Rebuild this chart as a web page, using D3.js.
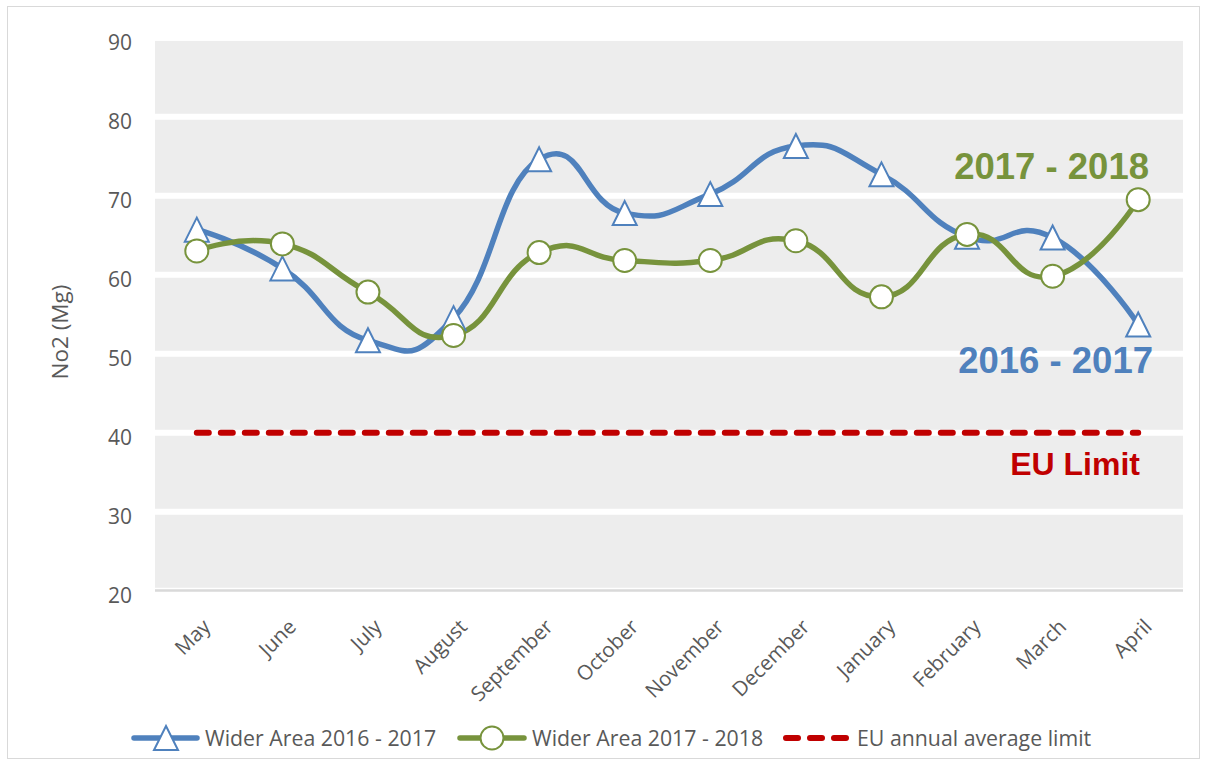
<!DOCTYPE html>
<html>
<head>
<meta charset="utf-8">
<script src="https://cdn.jsdelivr.net/npm/d3@7"></script>
<style>
  html, body { margin: 0; padding: 0; background: #ffffff; }
  svg { display: block; font-family: "Open Sans", "Noto Sans", sans-serif; }
</style>
</head>
<body>
<svg id="chart" width="1206" height="765"></svg>
<script>
const months = ["May", "June", "July", "August", "September", "October", "November", "December", "January", "February", "March", "April"];
const wider2016 = [65.7, 60.8, 51.7, 54.5, 74.6, 67.8, 70.2, 76.3, 72.7, 64.8, 64.7, 53.7];
const wider2018 = [63.0, 63.9, 57.8, 52.3, 62.8, 61.8, 61.8, 64.3, 57.2, 65.1, 59.8, 69.5];
const euLimit = [40, 40, 40, 40, 40, 40, 40, 40, 40, 40, 40, 40];
const yTicks = [20, 30, 40, 50, 60, 70, 80, 90];
const seriesNames = ["Wider Area 2016 - 2017", "Wider Area 2017 - 2018", "EU annual average limit"];

const blue = "#4f81bd", green = "#77933c", red = "#c00000", textCol = "#595959";

const svg = d3.select("#chart");

// outer frame
svg.append("rect").attr("x", 7.5).attr("y", 6.5).attr("width", 1192).attr("height", 752)
  .attr("fill", "#ffffff").attr("stroke", "#d9d9d9").attr("stroke-width", 1);

const plotLeft = 155, plotRight = 1183;
const x = d3.scalePoint().domain(months).range([196.8, 1138.2]);
const y = d3.scaleLinear().domain([20, 90]).range([590.7, 37.7]);

// plot background
svg.append("rect").attr("x", plotLeft).attr("y", y(90)).attr("width", plotRight - plotLeft)
  .attr("height", y(20) - y(90)).attr("fill", "#ededed");

// white gridlines
svg.append("g").selectAll("line").data(yTicks).join("line")
  .attr("x1", plotLeft).attr("x2", plotRight)
  .attr("y1", d => y(d)).attr("y2", d => y(d))
  .attr("stroke", "#ffffff").attr("stroke-width", 6);

// cover above top
svg.append("rect").attr("x", plotLeft - 2).attr("y", 20).attr("width", plotRight - plotLeft + 4)
  .attr("height", y(90) + 3 - 20).attr("fill", "#ffffff");

// x axis line
svg.append("line").attr("x1", plotLeft).attr("x2", plotRight)
  .attr("y1", 590.5).attr("y2", 590.5).attr("stroke", "#d9d9d9").attr("stroke-width", 2.4);

// y tick labels
svg.append("g").selectAll("text").data(yTicks).join("text")
  .attr("x", 132).attr("y", d => y(d) + 12.5)
  .attr("text-anchor", "end").attr("fill", textCol).attr("font-size", 21)
  .text(d => d);

// y title
svg.append("text").attr("transform", "translate(68,332) rotate(-90)")
  .attr("text-anchor", "middle").attr("fill", textCol).attr("font-size", 22.5)
  .text("No2 (Mg)");

// x labels
svg.append("g").selectAll("text").data(months).join("text")
  .attr("transform", d => `translate(${x(d) + 15},628) rotate(-45)`)
  .attr("text-anchor", "end").attr("fill", textCol).attr("font-size", 20.5)
  .text(d => d);

// EU limit line
const lineStraight = d3.line().x((d, i) => x(months[i])).y(d => y(d));
svg.append("path").datum(euLimit).attr("d", lineStraight)
  .attr("fill", "none").attr("stroke", red).attr("stroke-width", 6)
  .attr("stroke-dasharray", "12,12").attr("stroke-linecap", "round");

const smooth = d3.line().x((d, i) => x(months[i])).y(d => y(d)).curve(d3.curveCardinal.tension(-0.5));

svg.append("path").datum(wider2016).attr("d", smooth)
  .attr("fill", "none").attr("stroke", blue).attr("stroke-width", 5.5).attr("stroke-linecap", "round");
svg.append("path").datum(wider2018).attr("d", smooth)
  .attr("fill", "none").attr("stroke", green).attr("stroke-width", 5.5).attr("stroke-linecap", "round");

const tri = "M0,-12 L12,12 L-12,12 Z";
svg.append("g").selectAll("path").data(wider2016).join("path")
  .attr("transform", (d, i) => `translate(${x(months[i])},${y(d)})`)
  .attr("d", tri).attr("fill", "#ffffff").attr("stroke", blue).attr("stroke-width", 2);

svg.append("g").selectAll("circle").data(wider2018).join("circle")
  .attr("cx", (d, i) => x(months[i])).attr("cy", d => y(d)).attr("r", 11.5)
  .attr("fill", "#ffffff").attr("stroke", green).attr("stroke-width", 2);

// annotations
svg.append("text").attr("x", 1149).attr("y", 179).attr("text-anchor", "end")
  .attr("font-family", "Liberation Sans, Arial, sans-serif").attr("font-weight", "bold")
  .attr("font-size", 36.5).attr("fill", green).text("2017 - 2018");
svg.append("text").attr("x", 1153).attr("y", 373).attr("text-anchor", "end")
  .attr("font-family", "Liberation Sans, Arial, sans-serif").attr("font-weight", "bold")
  .attr("font-size", 36.5).attr("fill", blue).text("2016 - 2017");
svg.append("text").attr("x", 1140).attr("y", 475).attr("text-anchor", "end")
  .attr("font-family", "Liberation Sans, Arial, sans-serif").attr("font-weight", "bold")
  .attr("font-size", 32).attr("fill", red).text("EU Limit");

// legend
const ly = 738;
const lg = svg.append("g");
// series 1
lg.append("line").attr("x1", 134).attr("x2", 197).attr("y1", ly).attr("y2", ly)
  .attr("stroke", blue).attr("stroke-width", 5.5).attr("stroke-linecap", "round");
lg.append("path").attr("transform", `translate(166,${ly})`).attr("d", tri)
  .attr("fill", "#ffffff").attr("stroke", blue).attr("stroke-width", 2);
lg.append("text").attr("x", 205).attr("y", ly + 8).attr("fill", textCol).attr("font-size", 21.3).text(seriesNames[0]);
// series 2
lg.append("line").attr("x1", 460).attr("x2", 524).attr("y1", ly).attr("y2", ly)
  .attr("stroke", green).attr("stroke-width", 5.5).attr("stroke-linecap", "round");
lg.append("circle").attr("cx", 492).attr("cy", ly).attr("r", 11.5)
  .attr("fill", "#ffffff").attr("stroke", green).attr("stroke-width", 2);
lg.append("text").attr("x", 532).attr("y", ly + 8).attr("fill", textCol).attr("font-size", 21.3).text(seriesNames[1]);
// series 3
lg.append("line").attr("x1", 786).attr("x2", 847).attr("y1", ly).attr("y2", ly)
  .attr("stroke", red).attr("stroke-width", 6).attr("stroke-dasharray", "12,12").attr("stroke-linecap", "round");
lg.append("text").attr("x", 857).attr("y", ly + 8).attr("fill", textCol).attr("font-size", 21.3).text(seriesNames[2]);
</script>
</body>
</html>
